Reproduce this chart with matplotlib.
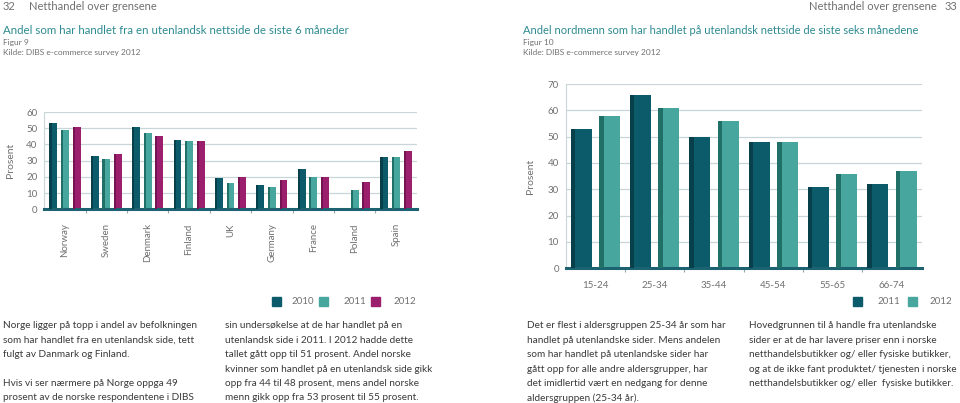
import numpy as np
import matplotlib
matplotlib.use("Agg")
from matplotlib import pyplot as plt
from matplotlib.patches import Rectangle

plt.rcParams['font.family'] = ['Lato', 'DejaVu Sans']

# ---- data: figure 9 (countries) ----
countries = ['Norway', 'Sweden', 'Denmark', 'Finland', 'UK', 'Germany', 'France', 'Poland', 'Spain']
years_left = ['2010', '2011', '2012']
share_2010 = [53, 33, 51, 43, 19, 15, 25, 0, 32]
share_2011 = [49, 31, 47, 42, 16, 14, 20, 12, 32]
share_2012 = [51, 34, 45, 42, 20, 18, 20, 17, 36]

# ---- data: figure 10 (age groups) ----
age_groups = ['15-24', '25-34', '35-44', '45-54', '55-65', '66-74']
years_right = ['2011', '2012']
age_2011 = [53, 66, 50, 48, 31, 32]
age_2012 = [58, 61, 56, 48, 36, 37]

W, H = 960, 403
fig = plt.figure(figsize=(W / 100, H / 100), dpi=100)

DARK = '#0c5b6a'
DARK_EDGE = '#073f4b'
LIGHT = '#47a69d'
LIGHT_EDGE = '#217068'
MAG = '#9b1f6d'
MAG_EDGE = '#741452'
TITLE = '#2e8b91'
GRID = '#c9d6d8'
GREY = '#707070'
BODY = '#3a3a3a'


def px_axes(x0, x1, y_top, y_bot):
    return fig.add_axes([x0 / W, 1 - y_bot / H, (x1 - x0) / W, (y_bot - y_top) / H])


def ftext(x, y, s, **kw):
    fig.text(x / W, 1 - y / H, s, **kw)


def style_axes(ax, ymax, step):
    ax.set_ylim(0, ymax)
    ax.set_yticks(np.arange(0, ymax + 1, step))
    ax.grid(axis='y', color=GRID, lw=0.9)
    ax.set_axisbelow(True)
    for s in ['top', 'right']:
        ax.spines[s].set_visible(False)
    ax.spines['left'].set_color(GRID)
    ax.spines['bottom'].set_color('#1d6270')
    ax.spines['bottom'].set_linewidth(2.2)
    ax.tick_params(axis='y', length=0, labelsize=7, labelcolor=GREY, pad=5)
    ax.tick_params(axis='x', which='major', length=0, labelsize=7, labelcolor=GREY)
    ax.tick_params(axis='x', which='minor', length=3, color='#9aa8aa', width=0.8)


# ---- left chart ----
axl = px_axes(44.3, 416.7, 112, 209.3)
x = np.arange(len(countries))
bw = 0.19
strip = 0.05
for off, vals, c, ce in [(-0.28, share_2010, DARK, DARK_EDGE),
                         (0.0, share_2011, LIGHT, LIGHT_EDGE),
                         (0.28, share_2012, MAG, MAG_EDGE)]:
    axl.bar(x + off, vals, width=bw, color=c, zorder=2)
    axl.bar(x + off - bw / 2 + strip / 2, vals, width=strip, color=ce, zorder=3)
axl.set_xlim(-0.5, len(countries) - 0.5)
style_axes(axl, 60, 10)
axl.set_xticks(x)
axl.set_xticklabels(countries, rotation=90, va='top')
axl.set_xticks(np.arange(0.5, len(countries) - 1, 1), minor=True)
axl.tick_params(axis='x', which='major', pad=10)
axl.set_ylabel('Prosent', fontsize=7.5, color=GREY, labelpad=8)

# ---- right chart ----
axr = px_axes(565.7, 921.7, 84, 268.3)
x2 = np.arange(len(age_groups))
bw2 = 0.354
strip2 = 0.075
for off, vals, c, ce in [(-0.24, age_2011, DARK, DARK_EDGE),
                         (0.24, age_2012, LIGHT, LIGHT_EDGE)]:
    axr.bar(x2 + off, vals, width=bw2, color=c, zorder=2)
    axr.bar(x2 + off - bw2 / 2 + strip2 / 2, vals, width=strip2, color=ce, zorder=3)
axr.set_xlim(-0.5, len(age_groups) - 0.5)
style_axes(axr, 70, 10)
axr.set_xticks(x2)
axr.set_xticklabels(age_groups)
axr.set_xticks(np.arange(0.5, len(age_groups) - 1, 1), minor=True)
axr.tick_params(axis='x', which='major', pad=9)
axr.set_ylabel('Prosent', fontsize=7.5, color=GREY, labelpad=9)

# ---- legends ----
sq = 9
for (lx, tx), name, c in zip([(271.5, 292), (318.5, 343), (370.5, 394)], years_left, [DARK, LIGHT, MAG]):
    fig.patches.append(Rectangle((lx / W, 1 - (301 + sq / 2) / H), sq / W, sq / H,
                                 color=c, transform=fig.transFigure))
    ftext(tx, 301, name, fontsize=7, color=GREY, va='center')
for (lx, tx), name, c in zip([(852.5, 877), (907.5, 930)], years_right, [DARK, LIGHT]):
    fig.patches.append(Rectangle((lx / W, 1 - (301 + sq / 2) / H), sq / W, sq / H,
                                 color=c, transform=fig.transFigure))
    ftext(tx, 301, name, fontsize=7, color=GREY, va='center')

# ---- page headers ----
ftext(3, 7, '32', fontsize=8, color=GREY, va='center')
ftext(29, 7, 'Netthandel over grensene', fontsize=8, color=GREY, va='center')
ftext(937, 7, 'Netthandel over grensene', fontsize=8, color=GREY, va='center', ha='right')
ftext(957, 7, '33', fontsize=8, color=GREY, va='center', ha='right')

ftext(3, 31, 'Andel som har handlet fra en utenlandsk nettside de siste 6 måneder',
      fontsize=8.3, color=TITLE, va='center')
ftext(3, 43, 'Figur 9', fontsize=6, color=GREY, va='center')
ftext(3, 52, 'Kilde: DIBS e-commerce survey 2012', fontsize=6, color=GREY, va='center')
ftext(523, 31, 'Andel nordmenn som har handlet på utenlandsk nettside de siste seks månedene',
      fontsize=8.0, color=TITLE, va='center')
ftext(523, 43, 'Figur 10', fontsize=6, color=GREY, va='center')
ftext(523, 52, 'Kilde: DIBS e-commerce survey 2012', fontsize=6, color=GREY, va='center')

# ---- body text columns ----
col1 = ['Norge ligger på topp i andel av befolkningen',
        'som har handlet fra en utenlandsk side, tett',
        'fulgt av Danmark og Finland.',
        '',
        'Hvis vi ser nærmere på Norge oppga 49',
        'prosent av de norske respondentene i DIBS']
col2 = ['sin undersøkelse at de har handlet på en',
        'utenlandsk side i 2011. I 2012 hadde dette',
        'tallet gått opp til 51 prosent. Andel norske',
        'kvinner som handlet på en utenlandsk side gikk',
        'opp fra 44 til 48 prosent, mens andel norske',
        'menn gikk opp fra 53 prosent til 55 prosent.']
col3 = ['Det er flest i aldersgruppen 25-34 år som har',
        'handlet på utenlandske sider. Mens andelen',
        'som har handlet på utenlandske sider har',
        'gått opp for alle andre aldersgrupper, har',
        'det imidlertid vært en nedgang for denne',
        'aldersgruppen (25-34 år).']
col4 = ['Hovedgrunnen til å handle fra utenlandske',
        'sider er at de har lavere priser enn i norske',
        'netthandelsbutikker og/ eller fysiske butikker,',
        'og at de ikke fant produktet/ tjenesten i norske',
        'netthandelsbutikker og/ eller  fysiske butikker.']
for cx, lines in [(3, col1), (225, col2), (527, col3), (749, col4)]:
    for i, line in enumerate(lines):
        ftext(cx, 326 + i * 14.4, line, fontsize=7.2, color=BODY, va='center')

fig.savefig('out.png', dpi=100)
